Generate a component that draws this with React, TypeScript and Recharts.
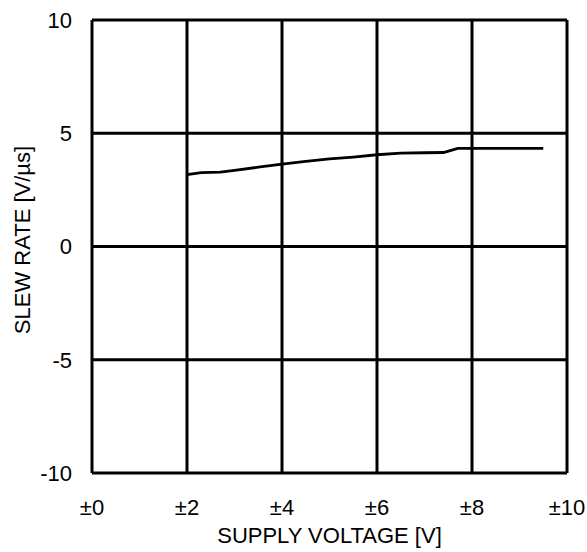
import { CartesianGrid, Label, Line, LineChart, XAxis, YAxis } from "recharts";

const supplyVoltage = [2.0, 2.3, 2.7, 3.0, 3.5, 4.0, 4.5, 5.0, 5.5, 6.0, 6.5, 7.0, 7.4, 7.7, 8.0, 8.5, 9.0, 9.5];
const slewRate = [3.17, 3.26, 3.28, 3.36, 3.5, 3.64, 3.76, 3.87, 3.95, 4.05, 4.12, 4.14, 4.15, 4.33, 4.33, 4.33, 4.33, 4.33];
const xTicks = [0, 2, 4, 6, 8, 10];
const yTicks = [-10, -5, 0, 5, 10];

const rows = supplyVoltage.map((v, i) => ({ v, sr: slewRate[i] }));
const font = { fontFamily: "'Liberation Sans', Arial, sans-serif", fontSize: 22, fill: "#000" };

export default function App() {
  return (
    <div style={{ position: "absolute", left: 0, top: 0, background: "#fff" }}>
      <LineChart width={587} height={552} data={rows} margin={{ top: 20, right: 20, bottom: 0, left: 0 }}>
        <CartesianGrid stroke="#000" strokeWidth={3} />
        <XAxis
          type="number"
          dataKey="v"
          domain={[0, 10]}
          ticks={xTicks}
          tickFormatter={(v) => `±${v}`}
          axisLine={false}
          tickLine={false}
          tickSize={0}
          tickMargin={26}
          height={79}
          tick={font}
        >
          <Label value="SUPPLY VOLTAGE [V]" position="insideBottom" offset={9} style={font} />
        </XAxis>
        <YAxis
          type="number"
          domain={[-10, 10]}
          ticks={yTicks}
          axisLine={false}
          tickLine={false}
          tickSize={0}
          tickMargin={20}
          width={92}
          tick={font}
        >
          <Label
            content={() => (
              <text x={22} y={240} transform="rotate(-90 22 240)" textAnchor="middle" dominantBaseline="central" style={font}>
                SLEW RATE [V/µs]
              </text>
            )}
          />
        </YAxis>
        <Line dataKey="sr" stroke="#000" strokeWidth={2.8} dot={false} isAnimationActive={false} />
      </LineChart>
    </div>
  );
}
